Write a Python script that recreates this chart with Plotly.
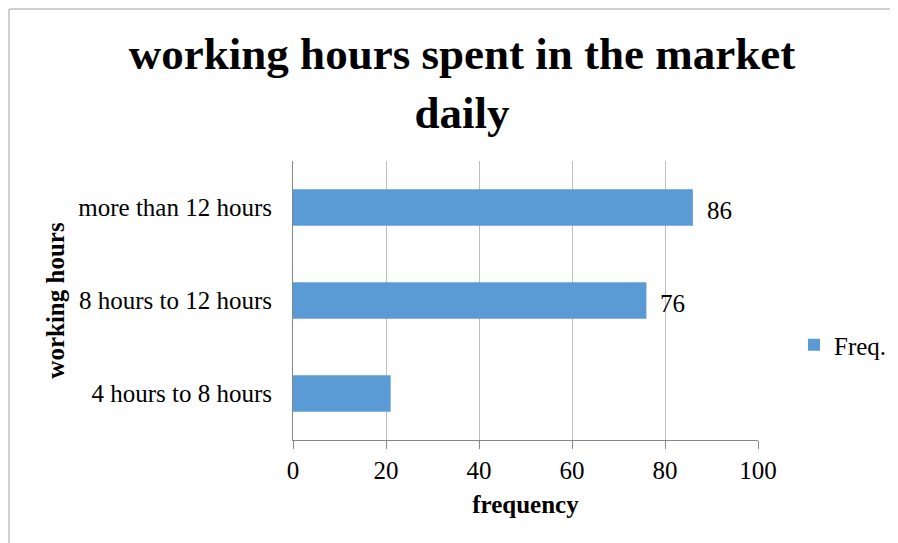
import plotly.graph_objects as go

categories = ["4 hours to 8 hours", "8 hours to 12 hours", "more than 12 hours"]
freq = [21, 76, 86]
data_labels = ["", "76", "86"]
x_ticks = [0, 20, 40, 60, 80, 100]

SERIF = "Liberation Serif, Times New Roman, serif"

FW, FH = 890, 535          # page has an 8px body margin
fig = go.Figure()
fig.add_trace(go.Bar(
    y=categories, x=freq, orientation="h", name="Freq.",
    marker=dict(color="#5B9BD5", line=dict(width=0)),
    width=0.39,
))

for c, v, t in zip(categories, freq, data_labels):
    if t:
        fig.add_annotation(x=v, y=c, text=t, showarrow=False, xanchor="left",
                           xshift=12, yshift=-3,
                           font=dict(family=SERIF, size=25, color="#000"))

# plot area in figure pixels
L, T, R, B = 285, 153, 750, 432
W, H = R - L, B - T
def px_x(p): return (p - L) / W
def px_y(p): return (B - p) / H
fig.add_shape(type="rect", xref="paper", yref="paper",
              x0=px_x(1), x1=px_x(905), y0=px_y(545), y1=px_y(1),
              line=dict(color="#A0A0A0", width=1), layer="below")

fig.update_layout(
    width=FW, height=FH,
    margin=dict(l=L, r=FW - R, t=T, b=FH - B, autoexpand=False),
    paper_bgcolor="white", plot_bgcolor="white",
    font=dict(family=SERIF, size=25, color="#000"),
    title=dict(text="<b>working hours spent in the market<br>daily</b>",
               xref="container", x=454 / FW, xanchor="center",
               y=1 - 61 / FH, yanchor="middle",
               font=dict(family=SERIF, size=45, color="#000")),
    showlegend=True,
    legend=dict(x=px_x(786), y=px_y(337), xanchor="left", yanchor="middle",
                font=dict(family=SERIF, size=25, color="#000"),
                itemwidth=30, bgcolor="rgba(0,0,0,0)"),
    bargap=0.6,
)
fig.update_xaxes(
    range=[0, 100], tickvals=x_ticks, ticktext=[str(v) for v in x_ticks],
    showgrid=True, gridcolor="#BFBFBF", gridwidth=1,
    showline=True, linecolor="#868686", linewidth=1,
    ticks="outside", ticklen=8, tickcolor="#868686",
    zeroline=False, tickfont=dict(family=SERIF, size=25),
    title=dict(text="<b>frequency</b>", standoff=12,
               font=dict(family=SERIF, size=25)),
    automargin=False, fixedrange=True,
)
fig.update_yaxes(
    showgrid=False, showline=True, linecolor="#868686", linewidth=1,
    ticks="outside", ticklen=0, ticklabelstandoff=15,
    tickfont=dict(family=SERIF, size=25),
    title=dict(text="<b>working hours</b>", standoff=6,
               font=dict(family=SERIF, size=25)),
    automargin=False, fixedrange=True,
)

fig.write_html("out.html")
